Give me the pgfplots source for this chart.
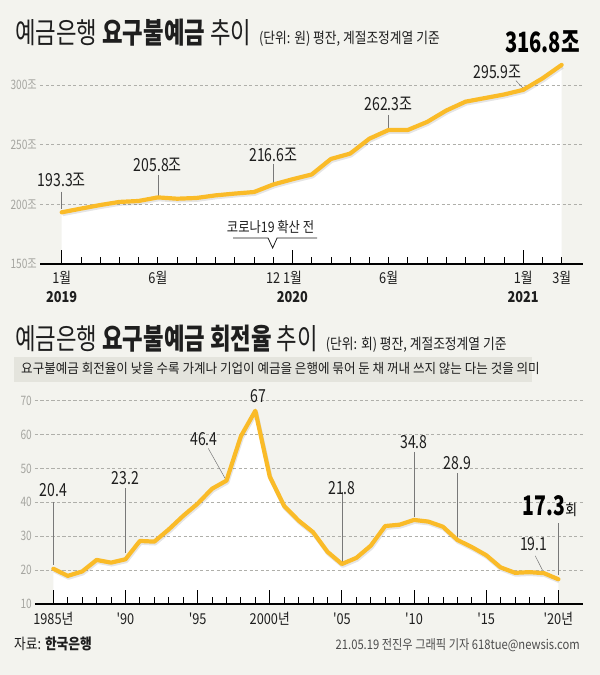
\documentclass[border=0pt]{standalone}
\usepackage{pgfplots}
\pgfplotsset{compat=1.18}
\usepackage{pgfplotstable}
\usepackage{fontspec}
\setmainfont{Noto Sans CJK KR}
\newfontfamily\kf{Noto Sans CJK KR}[FakeStretch=0.85]
\newfontfamily\kw{Noto Sans CJK KR}[FakeStretch=0.93]
\newfontfamily\kt{Noto Sans CJK KR}[FakeStretch=0.77]
\newfontfamily\kn{Noto Sans CJK KR}[FakeStretch=0.78]
\newfontfamily\kb{Noto Sans CJK KR}[FakeStretch=0.72]
\definecolor{bg}{RGB}{243,243,238}
\definecolor{lc}{RGB}{250,187,40}
\definecolor{gridc}{RGB}{175,175,170}
\definecolor{tlab}{RGB}{165,165,160}
\definecolor{boxc}{RGB}{228,228,221}
\definecolor{lead}{RGB}{120,120,120}
\definecolor{txt}{RGB}{30,30,30}

\pgfplotstableread{
m v
0 150
0 193.3
1 196.4
2 199.4
3 202.0
4 202.8
5 205.8
6 204.7
7 205.3
8 207.5
9 209.0
10 210.3
11 216.6
12 221.0
13 225.0
14 238.0
15 242.5
16 255.0
17 262.3
18 262.3
19 269.0
20 278.6
21 286.0
22 289.0
23 292.0
24 295.9
25 305.5
26 316.8
26 150
}\depo

\pgfplotstableread{
y r
1985 10
1985 20.4
1986 18.3
1987 19.6
1988 23.0
1989 22.2
1990 23.2
1991 28.6
1992 28.4
1993 32.0
1994 36.0
1995 39.6
1996 44.0
1997 46.4
1998 59.5
1999 67.0
2000 47.6
2001 38.9
2002 34.6
2003 31.2
2004 25.4
2005 21.8
2006 23.6
2007 27.2
2008 33.0
2009 33.4
2010 34.8
2011 34.3
2012 32.8
2013 28.9
2014 26.8
2015 24.4
2016 20.8
2017 19.2
2018 19.4
2019 19.1
2020 17.3
2020 10
}\turn

\begin{document}
\begin{tikzpicture}[x=1pt,y=1pt]
\useasboundingbox (0,0) rectangle (600,675);
\fill[bg] (0,0) rectangle (600,675);

% Titles
\node[anchor=base west, inner sep=0, text=txt] at (15,631) {\kt\fontsize{29}{31}\selectfont 예금은행 \textbf{요구불예금} 추이\hspace{8pt}{\kf\fontsize{15}{15}\selectfont (단위: 원) 평잔, 계절조정계열 기준}};
\node[anchor=base east, inner sep=0, text=black] at (580,622) {\kb\fontsize{28}{30}\selectfont\bfseries 316.8조};

\node[anchor=base west, inner sep=0, text=txt] at (15,325) {\kt\fontsize{29}{31}\selectfont 예금은행 \textbf{요구불예금 회전율} 추이\hspace{8pt}{\kf\fontsize{15}{15}\selectfont (단위: 회) 평잔, 계절조정계열 기준}};
\fill[boxc] (14,293) rectangle (532,318);
\node[anchor=base west, inner sep=0, text=txt] at (21,301) {\kw\fontsize{13.5}{14}\selectfont 요구불예금 회전율이 낮을 수록 가계나 기업이 예금을 은행에 묶어 둔 채 꺼내 쓰지 않는 다는 것을 의미};

% Footer
\node[anchor=base west, inner sep=0, text=txt] at (14,25) {\kf\fontsize{15}{15}\selectfont 자료: \textbf{한국은행}};
\node[anchor=base east, inner sep=0, text=black!70] at (580,25) {\kf\fontsize{13.2}{14}\selectfont 21.05.19 전진우 그래픽 기자 618tue@newsis.com};

% Top chart
\begin{axis}[
 at={(40pt,411pt)}, anchor=south west, scale only axis,
 width=543pt, height=202.9pt,
 xmin=-1.13, xmax=27.11, ymin=150, ymax=320,
 axis on top, clip=false,
 axis x line*=bottom, axis y line*=left,
 y axis line style={draw=none},
 x axis line style={black, line width=1.1pt},
 ytick={150,200,250,300}, yticklabels={150조,200조,250조,300조},
 ytick style={draw=none},
 yticklabel style={font=\kn\fontsize{13}{13}\selectfont, text=tlab, anchor=east, inner sep=0pt, xshift=-3pt},
 xtick={0,...,26},
 xticklabels={1월,,,,,6월,,,,,,12,1월,,,,,6월,,,,,,,1월,,3월},
 xtick style={black, line width=0.8pt},
 tick align=inside, major tick length=7pt,
 xticklabel style={font=\kf\fontsize{15}{15}\selectfont, text=txt, anchor=base, inner sep=0pt, yshift=-20pt},
 extra x ticks={0,12,24},
 extra x tick labels={2019,2020,2021},
 extra x tick style={major tick length=14pt, xticklabel style={font=\kf\bfseries\fontsize{15}{15}\selectfont, yshift=-19pt}},
]
\addplot[fill=white, draw=none] table[x=m, y=v] {\depo};
\foreach \g in {200,250,300}{
  \edef\tmp{\noexpand\draw[gridc, line width=0.6pt, dash pattern=on 3.3pt off 2.2pt] (axis cs:-1.13,\g) -- (axis cs:27.11,\g);}\tmp
}
% leaders
\draw[lead, line width=0.5pt] (axis cs:0,210.6) -- (axis cs:0,196);
\draw[lead, line width=0.5pt] (axis cs:5,224.6) -- (axis cs:5,207);
\draw[lead, line width=0.5pt] (axis cs:11,233.8) -- (axis cs:11,218);
\draw[lead, line width=0.5pt] (axis cs:17,274.9) -- (axis cs:17,263);
\draw[lead, line width=0.5pt] (axis cs:23.62,303.6) -- (axis cs:24,297.2);
% covid bracket
\draw[txt, line width=0.8pt] (axis cs:8.91,171.8) -- (axis cs:10.73,171.8) -- (axis cs:10.97,163.4) -- (axis cs:11.2,171.8) -- (axis cs:13.28,171.8);
\node[anchor=base, inner sep=0, text=txt] at (axis cs:10.86,176.8) {\kf\fontsize{14.5}{15}\selectfont 코로나19 확산 전};
% shadow + line
\addplot[draw=black, opacity=0.10, line width=4.2pt, line join=round, xshift=0.8pt, yshift=-1.8pt, skip coords between index={0}{1}, skip coords between index={28}{29}] table[x=m, y=v] {\depo};
\addplot[lc, line width=4.2pt, line join=round, line cap=round, skip coords between index={0}{1}, skip coords between index={28}{29}] table[x=m, y=v] {\depo};
% labels
\node[text=txt, inner sep=0] at (axis cs:0,220.4) {\kn\fontsize{18}{18}\selectfont 193.3조};
\node[text=txt, inner sep=0] at (axis cs:5,233.0) {\kn\fontsize{18}{18}\selectfont 205.8조};
\node[text=txt, inner sep=0] at (axis cs:11,241.3) {\kn\fontsize{18}{18}\selectfont 216.6조};
\node[text=txt, inner sep=0] at (axis cs:17,284.1) {\kn\fontsize{18}{18}\selectfont 262.3조};
\node[text=txt, inner sep=0] at (axis cs:22.66,311.3) {\kn\fontsize{18}{18}\selectfont 295.9조};
\end{axis}

% Bottom chart
\begin{axis}[
 at={(35pt,71pt)}, anchor=south west, scale only axis,
 width=548pt, height=220.35pt,
 xmin=1983.73, xmax=2021.71, ymin=10, ymax=75,
 axis on top, clip=false,
 axis x line*=bottom, axis y line*=left,
 y axis line style={draw=none},
 x axis line style={black, line width=1.1pt},
 ytick={10,20,...,70}, yticklabels={10,20,30,40,50,60,70},
 ytick style={draw=none},
 yticklabel style={font=\kn\fontsize{13}{13}\selectfont, text=tlab, anchor=east, inner sep=0pt, xshift=-3pt},
 xtick={1985,1990,...,2020},
 xticklabels={1985년,'90,'95,2000년,'05,'10,'15,'20년},
 minor x tick num=4,
 tick style={black, line width=0.8pt},
 tick align=inside, major tick length=14pt, minor tick length=7pt,
 xticklabel style={font=\kf\fontsize{15}{15}\selectfont, text=txt, anchor=base, inner sep=0pt, yshift=-20pt},
]
\addplot[fill=white, draw=none] table[x=y, y=r] {\turn};
\foreach \g in {20,30,...,70}{
  \edef\tmp{\noexpand\draw[gridc, line width=0.6pt, dash pattern=on 3.3pt off 2.2pt] (axis cs:1983.73,\g) -- (axis cs:2021.71,\g);}\tmp
}
\draw[lead, line width=0.5pt] (axis cs:1985,40.1) -- (axis cs:1985,21.5);
\draw[lead, line width=0.5pt] (axis cs:1990,44.2) -- (axis cs:1990,25);
\draw[lead, line width=0.5pt] (axis cs:1995.74,55.9) -- (axis cs:1996.9,47.1);
\draw[lead, line width=0.5pt] (axis cs:2005,43.1) -- (axis cs:2005,22.5);
\draw[lead, line width=0.5pt] (axis cs:2010,54.9) -- (axis cs:2010,35.8);
\draw[lead, line width=0.5pt] (axis cs:2013,48.6) -- (axis cs:2013,29.4);
\draw[lead, line width=0.5pt] (axis cs:2018.4,24.2) -- (axis cs:2018.9,20);
\draw[lead, line width=0.5pt] (axis cs:2020,33.8) -- (axis cs:2020,18.7);
\addplot[draw=black, opacity=0.10, line width=4.2pt, line join=round, xshift=0.8pt, yshift=-1.8pt, skip coords between index={0}{1}, skip coords between index={37}{38}] table[x=y, y=r] {\turn};
\addplot[lc, line width=4.2pt, line join=round, line cap=round, skip coords between index={0}{1}, skip coords between index={37}{38}] table[x=y, y=r] {\turn};
\node[text=txt, inner sep=0] at (axis cs:1985,43.6) {\kn\fontsize{18}{18}\selectfont 20.4};
\node[text=txt, inner sep=0] at (axis cs:1990,47.2) {\kn\fontsize{18}{18}\selectfont 23.2};
\node[text=txt, inner sep=0] at (axis cs:1995.44,58.7) {\kn\fontsize{18}{18}\selectfont 46.4};
\node[text=txt, inner sep=0] at (axis cs:1999.19,71.4) {\kn\fontsize{18}{18}\selectfont 67};
\node[text=txt, inner sep=0] at (axis cs:2005,44.1) {\kn\fontsize{18}{18}\selectfont 21.8};
\node[text=txt, inner sep=0] at (axis cs:2010,57.9) {\kn\fontsize{18}{18}\selectfont 34.8};
\node[text=txt, inner sep=0] at (axis cs:2013,51.5) {\kn\fontsize{18}{18}\selectfont 28.9};
\node[text=txt, inner sep=0] at (axis cs:2018.3,27.8) {\kn\fontsize{18}{18}\selectfont 19.1};
\node[text=black, inner sep=0, anchor=base] at (axis cs:2019.42,36.25) {{\kb\fontsize{27}{27}\selectfont\bfseries 17.3}{\kf\fontsize{15}{15}\selectfont 회}};
\end{axis}
\end{tikzpicture}
\end{document}
